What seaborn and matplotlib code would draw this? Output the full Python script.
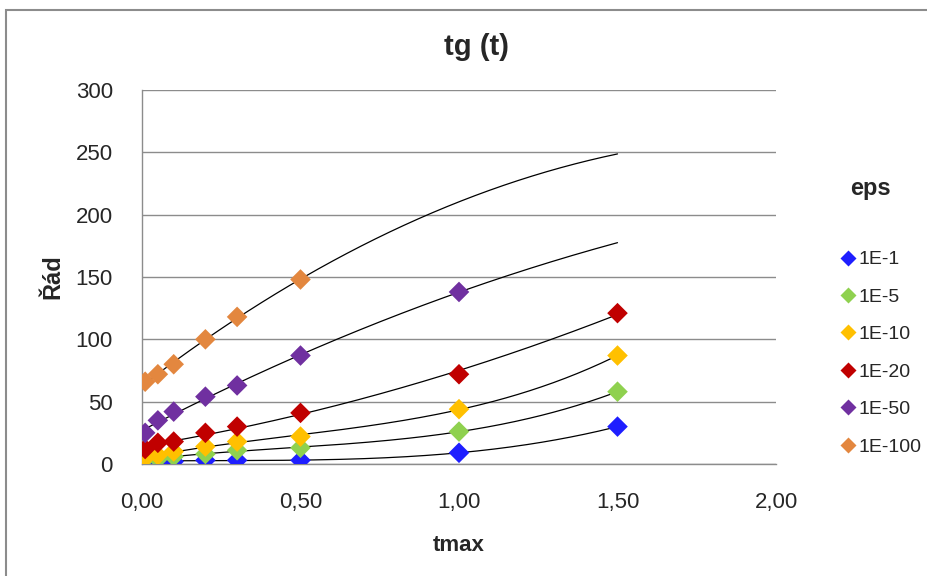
import numpy as np
import pandas as pd
import matplotlib
matplotlib.use("Agg")
import matplotlib.pyplot as plt
import seaborn as sns
from matplotlib.ticker import FuncFormatter
from matplotlib.lines import Line2D
from matplotlib.patches import Rectangle

# ---- data ----
series = ["1E-1", "1E-5", "1E-10", "1E-20", "1E-50", "1E-100"]
tmax_full = [0.01, 0.05, 0.1, 0.2, 0.3, 0.5, 1.0, 1.5]
tmax_purple = [0.01, 0.05, 0.1, 0.2, 0.3, 0.5, 1.0]
tmax_orange = [0.01, 0.05, 0.1, 0.2, 0.3, 0.5]

rad_1e1 = [3, 2, 2, 3, 3, 3, 9, 30]
rad_1e5 = [4, 4, 6, 8, 11, 13, 26, 58]
rad_1e10 = [5, 7, 10, 14, 18, 22, 44, 87]
rad_1e20 = [12, 17, 18, 25, 30, 41, 72, 121]
rad_1e50 = [25, 35, 42, 54, 63, 87, 138]
rad_1e100 = [66, 72, 80, 100, 118, 148]

colors = ["#1E1EFF", "#8FD14F", "#FFC000", "#C00000", "#7030A0", "#E3873F"]

xs = [tmax_full, tmax_full, tmax_full, tmax_full, tmax_purple, tmax_orange]
ys = [rad_1e1, rad_1e5, rad_1e10, rad_1e20, rad_1e50, rad_1e100]
degs = [3, 3, 3, 2, 2, 2]

rows = []
for name, x, y in zip(series, xs, ys):
    for a, b in zip(x, y):
        rows.append({"tmax": a, "rad": b, "eps": name})
df = pd.DataFrame(rows)

# ---- figure ----
sns.set_style("white")
plt.rcParams["font.family"] = ["Liberation Sans", "DejaVu Sans"]

fig = plt.figure(figsize=(9.27, 5.76), dpi=100)
ax = fig.add_axes([142 / 927, 1 - 464 / 576, (776 - 142) / 927, (464 - 90) / 576])

# trendlines
for x, y, d in zip(xs, ys, degs):
    p = np.polyfit(x, y, d)
    xx = np.linspace(0.01, 1.5, 200)
    ax.plot(xx, np.polyval(p, xx), color="black", lw=0.9, zorder=2)

sns.scatterplot(data=df, x="tmax", y="rad", hue="eps", hue_order=series,
                palette=colors, marker="D", s=110, edgecolor="none",
                ax=ax, legend=False, zorder=3)

ax.set_xlim(0, 2.0)
ax.set_ylim(0, 300)
ax.set_xticks([0, 0.5, 1.0, 1.5, 2.0])
ax.set_yticks(range(0, 301, 50))
ax.xaxis.set_major_formatter(FuncFormatter(lambda v, _: f"{v:.2f}".replace(".", ",")))
ax.yaxis.grid(True, color="#8C8C8C", lw=1)
ax.xaxis.grid(False)
ax.set_axisbelow(True)
for s in ["top", "right"]:
    ax.spines[s].set_visible(False)
for s in ["left", "bottom"]:
    ax.spines[s].set_color("#8C8C8C")
    ax.spines[s].set_linewidth(1)
ax.tick_params(axis="both", labelsize=16, length=0)
ax.tick_params(axis="y", pad=21)
ax.tick_params(axis="x", pad=20)

ax.set_xlabel("tmax", fontsize=16, fontweight="bold", labelpad=16)
ax.set_ylabel("Řád", fontsize=17, fontweight="bold", labelpad=8)
fig.text(476 / 927, 1 - 47 / 576, "tg (t)", fontsize=21, fontweight="bold",
         ha="center", va="center")

# legend
handles = [Line2D([0], [0], marker="D", linestyle="none", markersize=8,
                  markerfacecolor=c, markeredgecolor="none") for c in colors]
leg = fig.legend(handles, series, loc="upper left",
                 bbox_to_anchor=(833 / 927, 1 - 243 / 576), frameon=False,
                 fontsize=14, handlelength=0.7, handletextpad=0.2,
                 labelspacing=1.02, borderaxespad=0)
fig.text(870 / 927, 1 - 189 / 576, "eps", fontsize=17, fontweight="bold",
         ha="center", va="center")

# outer chart border (top and left edges visible)
fig.add_artist(Rectangle((6 / 927, -0.02), 1.0, 1 - 10 / 576 + 0.02,
                         transform=fig.transFigure, fill=False,
                         edgecolor="#8C8C8C", lw=1.5))

fig.savefig("out.png", dpi=100)
